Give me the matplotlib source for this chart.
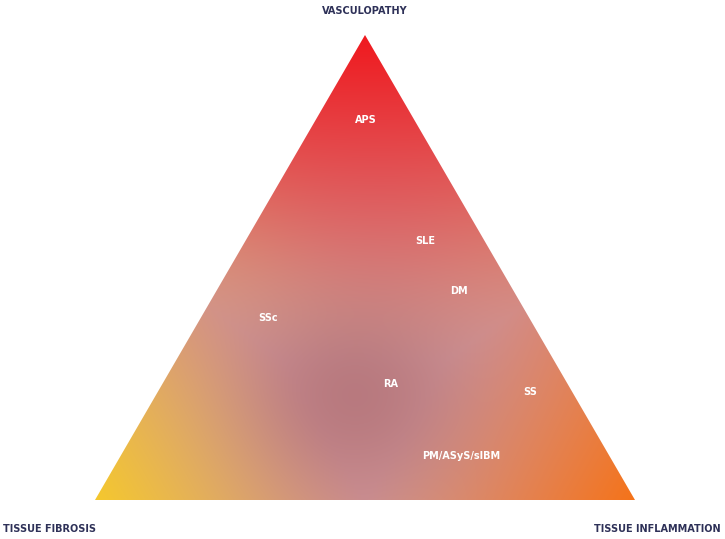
import numpy as np
import matplotlib
matplotlib.use("Agg")
import matplotlib.pyplot as plt
from matplotlib.patches import Polygon

W, H = 725, 539
vertex_names = ["VASCULOPATHY", "TISSUE FIBROSIS", "TISSUE INFLAMMATION"]
vertex_x = [365, 95, 635]
vertex_y = [35, 500, 500]
diseases = ["APS", "SLE", "DM", "SSc", "RA", "SS", "PM/ASyS/sIBM"]
disease_x = [366, 425, 459, 268, 391, 530, 461]
disease_y = [120, 241, 291, 318, 384, 392, 456]

fig = plt.figure(figsize=(W/100, H/100), dpi=100)
ax = fig.add_axes([0, 0, 1, 1])
ax.set_xlim(0, W); ax.set_ylim(H, 0); ax.axis("off")

xx, yy = np.meshgrid(np.arange(W) + 0.5, np.arange(H) + 0.5)
(x1, x2, x3), (y1, y2, y3) = vertex_x, vertex_y
det = (y2 - y3) * (x1 - x3) + (x3 - x2) * (y1 - y3)
w1 = ((y2 - y3) * (xx - x3) + (x3 - x2) * (yy - y3)) / det
w2 = ((y3 - y1) * (xx - x3) + (x1 - x3) * (yy - y3)) / det
w3 = 1 - w1 - w2
cols = np.array([[240, 25, 30], [245, 200, 45], [245, 115, 25]]) / 255
ws = np.clip(np.stack([w1, w2, w3]), 0, 1)
p = ws ** 3
p = p / (p.sum(0) + 1e-9)
base = np.tensordot(p.transpose(1, 2, 0), cols, axes=([2], [0]))
thr = np.array([0.3, 0.5, 0.5])[:, None, None]
kk = np.clip((ws - thr) / (1 - thr), 0, 1)
k = np.max(kk, axis=0) ** 1.1
pink = np.array([208, 148, 150]) / 255
img = base * k[..., None] + pink * (1 - k[..., None])
d2 = (xx - 355) ** 2 + ((yy - 395) * 1.1) ** 2
g = 0.55 * np.exp(-d2 / (2 * 75 ** 2))
dark = np.array([165, 100, 108]) / 255
img = img * (1 - g[..., None]) + dark * g[..., None]
im = ax.imshow(np.clip(img, 0, 1), extent=(0, W, H, 0), interpolation="bilinear")
tri = Polygon(list(zip(vertex_x, vertex_y)), closed=True, transform=ax.transData, facecolor="none", edgecolor="none")
ax.add_patch(tri)
im.set_clip_path(tri)

for n, x, y in zip(diseases, disease_x, disease_y):
    ax.text(x, y, n, color="white", fontsize=7, fontweight="bold", ha="center", va="center")

navy = "#2e3158"
ax.text(vertex_x[0], 11, vertex_names[0], color=navy, fontsize=7, fontweight="bold", ha="center", va="center")
ax.text(3, 529, vertex_names[1], color=navy, fontsize=7, fontweight="bold", ha="left", va="center")
ax.text(721, 529, vertex_names[2], color=navy, fontsize=7, fontweight="bold", ha="right", va="center")

fig.savefig("out.png", dpi=100)
